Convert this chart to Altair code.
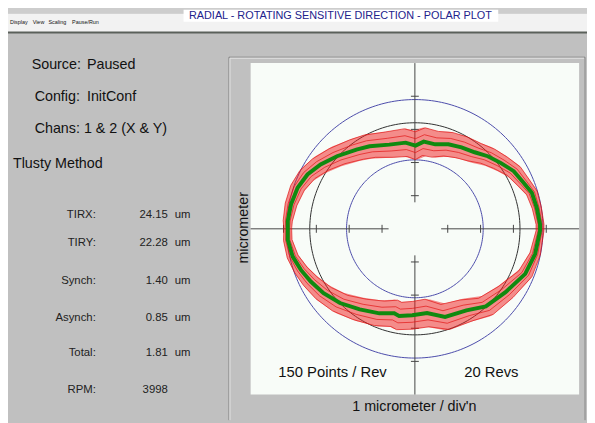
import altair as alt
import pandas as pd
import numpy as np

# ---------------- data ----------------
TITLE = "RADIAL - ROTATING SENSITIVE DIRECTION - POLAR PLOT"
MENU = ["Display", "View", "Scaling", "Pause/Run"]

status_labels = ["Source:", "Config:"]
status_values = ["Paused", "InitConf"]
chans_text = "Chans: 1 & 2 (X & Y)"
method_text = "Tlusty Method"

row_labels = ["TIRX:", "TIRY:", "Synch:", "Asynch:", "Total:", "RPM:"]
row_values = ["24.15", "22.28", "1.40", "0.85", "1.81", "3998"]
row_units = ["um", "um", "um", "um", "um", ""]

# mean orbit (green), micrometres
green_x = [-3.87, -3.87, -3.77, -3.57, -3.27, -2.87, -2.37, -1.78, -1.38, -0.78, -0.28, 0.02,
           0.27, 0.62, 1.02, 1.42, 1.82, 2.22, 2.61, 3.01, 3.31, 3.56, 3.71, 3.81,
           3.81, 3.66, 3.36, 2.76, 2.16, 1.57, 0.92, 0.37, -0.08, -0.48, -0.63, -1.08,
           -1.68, -2.28, -2.78, -3.17, -3.47, -3.72, -3.87, -3.87]
green_y = [0.04, 0.24, 0.74, 1.24, 1.64, 1.94, 2.19, 2.39, 2.49, 2.54, 2.60, 2.51,
           2.63, 2.55, 2.55, 2.46, 2.31, 2.19, 1.99, 1.74, 1.39, 1.09, 0.64, 0.14,
           -0.06, -0.76, -1.36, -1.91, -2.34, -2.46, -2.66, -2.54, -2.61, -2.63, -2.55, -2.55,
           -2.43, -2.24, -1.94, -1.59, -1.24, -0.84, -0.34, -0.06]
# half-spread of the 20 raw revolutions (red) around the mean, micrometres
red_spread = [0.12, 0.14, 0.18, 0.22, 0.26, 0.30, 0.33, 0.36, 0.38, 0.40, 0.42, 0.42,
              0.42, 0.40, 0.38, 0.36, 0.33, 0.30, 0.27, 0.24, 0.20, 0.17, 0.14, 0.12,
              0.12, 0.16, 0.22, 0.28, 0.33, 0.37, 0.40, 0.42, 0.42, 0.42, 0.41, 0.40,
              0.37, 0.33, 0.29, 0.25, 0.21, 0.17, 0.13, 0.12]

blue_radii = [2.08, 3.9]
black_radii = [3.2]
tick_pos = [-4, -3, -2, -1, 1, 2, 3, 4]
axis_gap = 0.8
axis_limit = 5.0

# ---------------- layout helpers ----------------
W, H = 587, 415
OFF = 8
def px(v):
    return v - OFF

PX_PER_UM = (587 - 254) / 10.0
font = "Liberation Sans"

xs = alt.Scale(domain=[-5, 5], range=[px(254), px(587)], nice=False, zero=False)
ys = alt.Scale(domain=[-5, 5], range=[px(397), px(61)], nice=False, zero=False)

one = pd.DataFrame({"a": [0]})

def box(x1, y1, x2, y2, color):
    return alt.Chart(one).mark_rect(color=color).encode(
        x=alt.value(px(x1)), x2=alt.value(px(x2)), y=alt.value(px(y1)), y2=alt.value(px(y2)))

def hline(x1, x2, y, color, w=1):
    return alt.Chart(one).mark_rule(color=color, strokeWidth=w).encode(
        x=alt.value(px(x1)), x2=alt.value(px(x2)), y=alt.value(px(y)))

def vline(x, y1, y2, color, w=1):
    return alt.Chart(one).mark_rule(color=color, strokeWidth=w).encode(
        x=alt.value(px(x)), y=alt.value(px(y1)), y2=alt.value(px(y2)))

def label(txt, x, y, size, align="left", color="#111111", angle=0):
    kw = dict(text=txt, fontSize=size, font=font, align=align, baseline="middle", color=color)
    if angle:
        kw["angle"] = angle
    return alt.Chart(one).mark_text(**kw).encode(x=alt.value(px(x)), y=alt.value(px(y)))

layers = []

# window chrome
layers.append(box(0, 0, 595, 11, "#cdcdcd"))
layers.append(box(0, 11, 595, 30, "#f2f2f2"))
layers.append(hline(0, 595, 30, "#5a605a", 2))
layers.append(box(186, 7, 505, 19, "#ffffff"))
layers.append(label(TITLE, 345, 13.5, 11, "center", "#22228c"))
menu_x = [10, 33, 49, 73]
for t, mx in zip(MENU, menu_x):
    layers.append(label(t, mx, 19, 5.5))

# plot frame (etched)
layers.append(hline(232, 593, 55, "#858585"))
layers.append(hline(233, 592, 56, "#e6e6e6"))
layers.append(vline(232, 55, 423, "#858585"))
layers.append(vline(233, 56, 423, "#e6e6e6"))
layers.append(vline(593, 55, 423, "#858585"))
layers.append(box(254, 61, 587, 397, "#f8fcf8"))

# left info panel
for t, v, yy, lx in zip(status_labels, status_values, [63, 95.5], [32, 35]):
    layers.append(label(t, lx, yy, 14.5))
    layers.append(label(v, 88, yy, 14.5))
layers.append(label(chans_text, 35, 127.5, 14.5))
layers.append(label(method_text, 13, 163, 14.5))
row_y = [215, 243, 282, 319, 355, 392]
for t, v, u, yy in zip(row_labels, row_values, row_units, row_y):
    layers.append(label(t, 97, yy, 11.5, "right", "#222222"))
    layers.append(label(v, 170, yy, 11.5, "right", "#222222"))
    if u:
        layers.append(label(u, 177, yy, 11.5, "left", "#222222"))

# plot texts
layers.append(label("micrometer", 247, 228, 14.5, "center", "#111111", 270))
layers.append(label("150 Points / Rev", 337, 374, 15, "center"))
layers.append(label("20 Revs", 498, 374, 15, "center"))
layers.append(label("1 micrometer / div'n", 420, 410, 14.5, "center"))

# circles
def circle_df(radii):
    rows = []
    ang = np.linspace(0, 2 * np.pi, 241)
    for r in radii:
        for k, a in enumerate(ang):
            rows.append({"r": r, "k": k, "x": r * np.cos(a), "y": r * np.sin(a)})
    return pd.DataFrame(rows)

for radii, col in [(blue_radii, "#4a4aaa"), (black_radii, "#303030")]:
    layers.append(alt.Chart(circle_df(radii)).mark_line(color=col, strokeWidth=1).encode(
        x=alt.X("x:Q", scale=xs, axis=None), y=alt.Y("y:Q", scale=ys, axis=None),
        detail="r:N", order="k:Q"))

# axes with central gap
seg = pd.DataFrame({
    "x1": [-axis_limit, axis_gap, 0, 0], "x2": [-axis_gap, axis_limit, 0, 0],
    "y1": [0, 0, -axis_limit, axis_gap], "y2": [0, 0, -axis_gap, axis_limit]})
layers.append(alt.Chart(seg).mark_rule(color="#444444", strokeWidth=1).encode(
    x=alt.X("x1:Q", scale=xs, axis=None), x2="x2:Q",
    y=alt.Y("y1:Q", scale=ys, axis=None), y2="y2:Q"))
th = 0.12
ticks = pd.DataFrame(
    [{"x1": t, "x2": t, "y1": -th, "y2": th} for t in tick_pos] +
    [{"x1": -th, "x2": th, "y1": t, "y2": t} for t in tick_pos])
layers.append(alt.Chart(ticks).mark_rule(color="#444444", strokeWidth=1).encode(
    x=alt.X("x1:Q", scale=xs, axis=None), x2="x2:Q",
    y=alt.Y("y1:Q", scale=ys, axis=None), y2="y2:Q"))

# red band + edges, green mean
gx = green_x + [green_x[0]]
gy = green_y + [green_y[0]]
sp = red_spread + [red_spread[0]]
orb = pd.DataFrame({"x": gx, "y": gy, "s": sp, "i": range(len(gx))})
orb["w"] = orb["s"] * 2 * PX_PER_UM
rr = np.hypot(orb["x"], orb["y"])
for name, f in [("o", 1.0), ("m", 0.5), ("n", -0.5), ("i", -1.0)]:
    orb["x" + name] = orb["x"] * (1 + f * orb["s"] / rr)
    orb["y" + name] = orb["y"] * (1 + f * orb["s"] / rr)

layers.append(alt.Chart(orb).mark_trail(color="#f01c1c", opacity=0.5).encode(
    x=alt.X("x:Q", scale=xs, axis=None), y=alt.Y("y:Q", scale=ys, axis=None),
    order="i:Q", size=alt.Size("w:Q", scale=None)))
for n in ["o", "m", "n", "i"]:
    layers.append(alt.Chart(orb).mark_line(color="#e01010", strokeWidth=0.8, opacity=0.85).encode(
        x=alt.X(f"x{n}:Q", scale=xs, axis=None), y=alt.Y(f"y{n}:Q", scale=ys, axis=None),
        order="i:Q"))
layers.append(alt.Chart(orb).mark_line(color="#108a10", strokeWidth=4).encode(
    x=alt.X("x:Q", scale=xs, axis=None), y=alt.Y("y:Q", scale=ys, axis=None),
    order="i:Q"))

chart = alt.layer(*layers).properties(
    width=W, height=H, autosize=alt.AutoSizeParams(type="none"), padding=0,
    background="#c0c0c0"
).configure_view(strokeWidth=0)

chart.save("out.html", embed_options={"renderer": "svg", "actions": False})
